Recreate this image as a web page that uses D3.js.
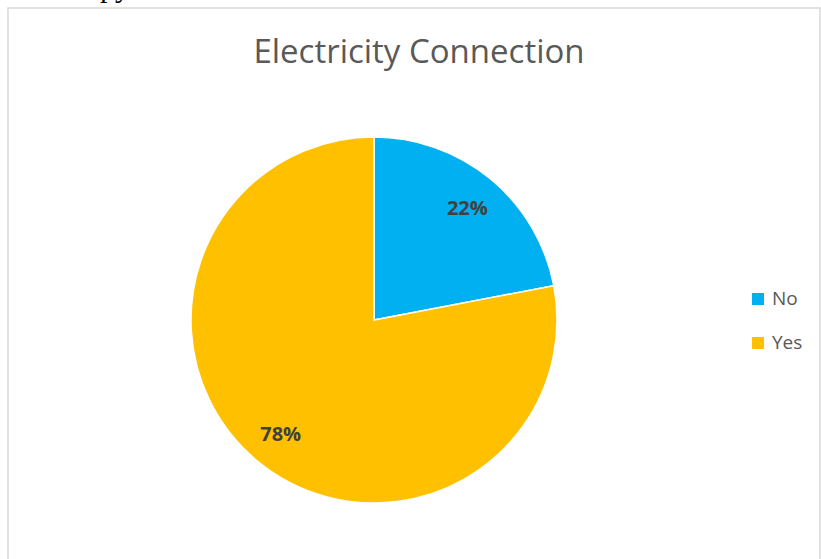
<!DOCTYPE html>
<html>
<head>
<meta charset="utf-8">
<script src="https://cdn.jsdelivr.net/npm/d3@7/dist/d3.min.js"></script>
<style>
  html, body { margin: 0; padding: 0; background: #fff; }
  svg { display: block; }
</style>
</head>
<body>
<svg id="chart" width="821" height="559"></svg>
<script>
// Electricity connection shares
const categories = ["No", "Yes"];
const values = [22, 78];
const colors = ["#00B0F0", "#FFC000"];

const svg = d3.select("#chart");

// Fragment of the document text above the chart frame
svg.append("text")
  .attr("x", 100).attr("y", -3)
  .attr("font-family", "Liberation Serif, Times New Roman, serif")
  .attr("font-size", 30)
  .attr("fill", "#000")
  .text("py");

// Chart frame
svg.append("rect")
  .attr("x", 8).attr("y", 8)
  .attr("width", 812).attr("height", 560)
  .attr("fill", "#fff")
  .attr("stroke", "#D9D9D9")
  .attr("stroke-width", 1.5);

// Title
svg.append("text")
  .attr("x", 419).attr("y", 63)
  .attr("text-anchor", "middle")
  .attr("font-family", "Open Sans, Noto Sans, sans-serif")
  .attr("font-size", 33)
  .attr("fill", "#595959")
  .text("Electricity Connection");

// Pie
const cx = 374, cy = 320, R = 183;
const pie = d3.pie().sort(null).value(d => d.value);
const data = categories.map((c, i) => ({ name: c, value: values[i], color: colors[i] }));
const arcs = pie(data);
const arc = d3.arc().innerRadius(0).outerRadius(R);
const labelArc = d3.arc().innerRadius(R * 0.8).outerRadius(R * 0.8);

const g = svg.append("g").attr("transform", `translate(${cx},${cy})`);
g.selectAll("path.slice")
  .data(arcs)
  .join("path")
  .attr("class", "slice")
  .attr("d", arc)
  .attr("fill", d => d.data.color)
  .attr("stroke", "#fff")
  .attr("stroke-width", 1.5);

g.selectAll("text.lbl")
  .data(arcs)
  .join("text")
  .attr("class", "lbl")
  .attr("transform", d => {
    const [x, y] = labelArc.centroid(d);
    return `translate(${x},${y + 8})`;
  })
  .attr("text-anchor", "middle")
  .attr("font-family", "Open Sans, Noto Sans, sans-serif")
  .attr("font-weight", "bold")
  .attr("font-size", 20)
  .attr("fill", "#404040")
  .text(d => d.data.value + "%");

// Legend
const legend = svg.append("g").attr("transform", "translate(752,299)");
const item = legend.selectAll("g")
  .data(data)
  .join("g")
  .attr("transform", (d, i) => `translate(0,${i * 44})`);
item.append("rect")
  .attr("x", 0).attr("y", -6)
  .attr("width", 12).attr("height", 12)
  .attr("fill", d => d.color);
item.append("text")
  .attr("x", 20).attr("y", 6)
  .attr("font-family", "Open Sans, Noto Sans, sans-serif")
  .attr("font-size", 19)
  .attr("fill", "#595959")
  .text(d => d.name);
</script>
</body>
</html>
